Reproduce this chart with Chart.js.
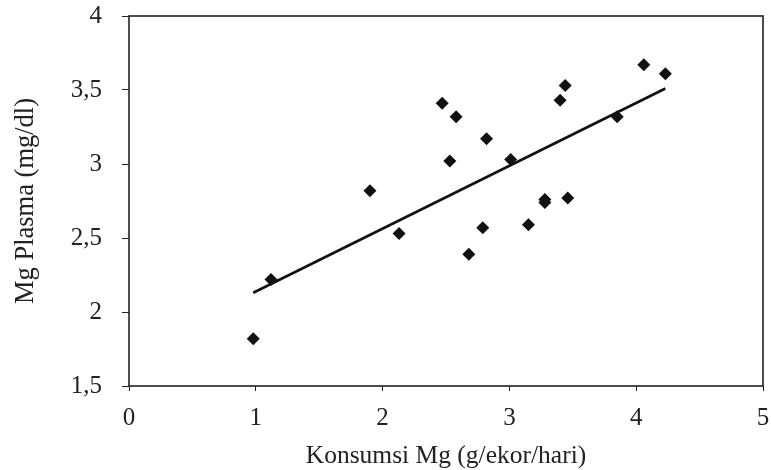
<!DOCTYPE html>
<html>
<head>
<meta charset="utf-8">
<script src="https://cdn.jsdelivr.net/npm/chart.js@4.4.1/dist/chart.umd.min.js"></script>
<style>
  html, body { margin: 0; padding: 0; background: #fff; }
  #wrap { width: 771px; height: 470px; }
</style>
</head>
<body>
<div id="wrap"><canvas id="chart"></canvas></div>
<script>
// konsumsi Mg (g/ekor/hari) vs Mg plasma (mg/dl)
const konsumsi = [0.98, 1.12, 1.90, 2.13, 2.47, 2.58, 2.53, 2.82, 2.68, 2.79,
                  3.01, 3.15, 3.28, 3.28, 3.46, 3.40, 3.44, 3.85, 4.06, 4.23];
const plasma   = [1.82, 2.22, 2.82, 2.53, 3.41, 3.32, 3.02, 3.17, 2.39, 2.57,
                  3.03, 2.59, 2.76, 2.74, 2.77, 3.43, 3.53, 3.32, 3.67, 3.61];

// garis regresi, ujung-ujungnya
const trendX = [0.98, 4.23];
const trendY = [2.13, 3.51];

const xTicks = [0, 1, 2, 3, 4, 5];
const yTicks = [1.5, 2, 2.5, 3, 3.5, 4];

const serif = "'Liberation Serif', 'Times New Roman', serif";

// bingkai atas dan kanan
const framePlugin = {
  id: 'frame',
  afterDatasetsDraw(chart) {
    const {ctx, chartArea: a} = chart;
    ctx.save();
    ctx.strokeStyle = '#222';
    ctx.lineWidth = 1.6;
    ctx.strokeRect(a.left, a.top, a.right - a.left, a.bottom - a.top);
    ctx.restore();
  }
};

const comma = v => String(v).replace('.', ',');

new Chart(document.getElementById('chart'), {
  type: 'scatter',
  data: {
    datasets: [{
      label: 'Mg Plasma',
      data: konsumsi.map((x, i) => ({x: x, y: plasma[i]})),
      pointStyle: 'rectRot',
      pointRadius: 6.5,
      backgroundColor: '#111',
      borderColor: '#111',
      borderWidth: 0
    }, {
      type: 'line',
      label: 'Regresi',
      data: trendX.map((x, i) => ({x: x, y: trendY[i]})),
      borderColor: '#111',
      borderWidth: 2.6,
      pointRadius: 0,
      fill: false
    }]
  },
  plugins: [framePlugin],
  options: {
    responsive: true,
    maintainAspectRatio: false,
    animation: false,
    layout: { padding: { top: 16, right: 8, left: 0, bottom: 0 } },
    plugins: {
      legend: { display: false },
      tooltip: { enabled: false }
    },
    scales: {
      x: {
        type: 'linear',
        min: 0,
        max: 5,
        afterBuildTicks: s => { s.ticks = xTicks.map(v => ({value: v})); },
        afterFit: s => { s.height = 84; s.paddingLeft = 0; s.paddingRight = 0; },
        grid: { drawOnChartArea: false, drawTicks: true, tickLength: 5, color: '#222' },
        border: { display: false },
        ticks: {
          padding: 12,
          color: '#222',
          font: { family: serif, size: 25 },
          callback: comma
        },
        title: {
          display: true,
          text: 'Konsumsi Mg (g/ekor/hari)',
          color: '#222',
          font: { family: serif, size: 25.5 },
          padding: { top: 0, bottom: -2 }
        }
      },
      y: {
        type: 'linear',
        min: 1.5,
        max: 4,
        afterBuildTicks: s => { s.ticks = yTicks.map(v => ({value: v})); },
        afterFit: s => { s.width = 129; s.paddingTop = 0; s.paddingBottom = 0; },
        grid: { drawOnChartArea: false, drawTicks: true, tickLength: 7, color: '#222' },
        border: { display: false },
        ticks: {
          padding: 20,
          color: '#222',
          font: { family: serif, size: 25 },
          callback: comma
        },
        title: {
          display: true,
          text: 'Mg Plasma (mg/dl)',
          color: '#222',
          font: { family: serif, size: 26.5 },
          padding: { top: 10, bottom: 0 }
        }
      }
    }
  }
});
</script>
</body>
</html>
